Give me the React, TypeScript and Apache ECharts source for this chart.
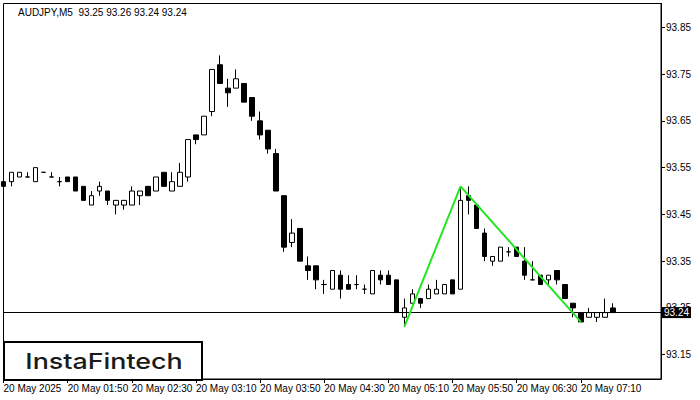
import React, { useEffect, useRef } from "react";
import * as echarts from "echarts";

// OHLC per 5-minute bar starting 20 May 2025 01:10
const opens = [93.52,93.52,93.53,93.53,93.52,93.54,93.53,93.52,93.53,93.53,93.51,93.47,93.50,93.50,93.47,93.47,93.47,93.49,93.51,93.50,93.54,93.50,93.51,93.53,93.62,93.62,93.67,93.77,93.72,93.72,93.73,93.70,93.65,93.63,93.58,93.49,93.39,93.42,93.34,93.34,93.30,93.29,93.32,93.30,93.30,93.29,93.28,93.32,93.32,93.31,93.23,93.26,93.27,93.27,93.28,93.28,93.31,93.29,93.49,93.47,93.41,93.35,93.35,93.37,93.38,93.35,93.31,93.32,93.31,93.33,93.30,93.26,93.24,93.23,93.23,93.23,93.25];
const closes = [93.51,93.54,93.54,93.53,93.55,93.54,93.53,93.52,93.52,93.50,93.48,93.49,93.51,93.48,93.48,93.48,93.50,93.50,93.49,93.53,93.51,93.52,93.54,93.61,93.61,93.66,93.76,93.73,93.71,93.74,93.69,93.66,93.62,93.59,93.50,93.38,93.41,93.35,93.33,93.31,93.30,93.33,93.29,93.29,93.30,93.29,93.33,93.31,93.30,93.24,93.25,93.28,93.26,93.29,93.29,93.30,93.28,93.48,93.48,93.42,93.36,93.36,93.38,93.37,93.36,93.32,93.31,93.30,93.32,93.31,93.27,93.25,93.22,93.24,93.24,93.24,93.24];
const lows = [93.51,93.51,93.53,93.53,93.52,93.54,93.53,93.51,93.52,93.50,93.48,93.47,93.49,93.47,93.45,93.46,93.47,93.47,93.49,93.50,93.51,93.50,93.51,93.52,93.60,93.62,93.66,93.73,93.68,93.72,93.69,93.65,93.61,93.58,93.50,93.37,93.38,93.35,93.31,93.29,93.28,93.29,93.27,93.29,93.29,93.28,93.28,93.30,93.30,93.24,93.21,93.26,93.25,93.27,93.28,93.28,93.28,93.29,93.45,93.42,93.35,93.34,93.35,93.36,93.36,93.31,93.31,93.30,93.30,93.30,93.27,93.23,93.22,93.23,93.22,93.23,93.24];
const highs = [93.52,93.54,93.54,93.54,93.55,93.54,93.54,93.53,93.53,93.53,93.51,93.50,93.52,93.50,93.48,93.48,93.51,93.50,93.51,93.53,93.54,93.54,93.56,93.61,93.62,93.66,93.76,93.79,93.74,93.76,93.73,93.70,93.67,93.63,93.59,93.49,93.44,93.42,93.36,93.34,93.31,93.33,93.33,93.32,93.32,93.30,93.33,93.33,93.33,93.31,93.27,93.29,93.27,93.30,93.31,93.30,93.31,93.51,93.51,93.47,93.42,93.36,93.38,93.38,93.38,93.38,93.35,93.32,93.32,93.33,93.30,93.26,93.24,93.25,93.24,93.27,93.26];

// Pattern line (bar index, price)
const patternIndex = [50, 57, 72];
const patternPrice = [93.21, 93.51, 93.22];

const currentPrice = 93.24;
const priceTicks = [93.15, 93.25, 93.35, 93.45, 93.55, 93.65, 93.75, 93.85];
const emptyBarsRight = 6;
const startMinutes = 1 * 60 + 10;

const totalBars = opens.length + emptyBarsRight;
const categories: string[] = [];
for (let i = 0; i < totalBars; i++) {
  const m = startMinutes + i * 5;
  const hh = String(Math.floor(m / 60)).padStart(2, "0");
  const mm = String(m % 60).padStart(2, "0");
  categories.push(`${hh}:${mm}`);
}

const FONT = "Liberation Sans";

export default function App() {
  const ref = useRef<HTMLDivElement>(null);
  useEffect(() => {
    document.body.style.margin = "0";
    if (!ref.current) return;
    const chart = echarts.init(ref.current, null, { renderer: "svg" });
    const candles = opens.map((o, i) => [o, closes[i], lows[i], highs[i]]);
    const showIdx = (i: number) => i % 8 === 0 && i <= 72;
    chart.setOption({
      animation: false,
      backgroundColor: "#fff",
      grid: {
        left: 3.5,
        top: 3.5,
        right: 39,
        bottom: 21,
        show: true,
        borderColor: "#000",
        borderWidth: 1,
        backgroundColor: "transparent",
        outerBoundsMode: "none",
      },
      xAxis: {
        type: "category",
        data: categories,
        boundaryGap: false,
        axisLine: { show: true, lineStyle: { color: "#000", width: 1 } },
        axisTick: {
          show: true,
          interval: (i: number) => showIdx(i),
          length: 4,
          lineStyle: { color: "#000" },
        },
        axisLabel: {
          show: true,
          interval: (i: number) => showIdx(i),
          align: "left",
          margin: 4,
          color: "#000",
          fontFamily: FONT,
          fontSize: 10,
          formatter: (v: string, i: number) =>
            i === 0 ? "20 May 2025" : `20 May ${v}`,
        },
        splitLine: { show: false },
      },
      yAxis: {
        type: "value",
        position: "right",
        min: 93.098,
        max: 93.901,
        axisLine: { show: true, lineStyle: { color: "#000", width: 1 } },
        axisTick: {
          show: true,
          length: 4,
          customValues: priceTicks,
          lineStyle: { color: "#000" },
        },
        axisLabel: {
          show: true,
          customValues: priceTicks,
          margin: 5,
          color: "#000",
          fontFamily: FONT,
          fontSize: 10,
          formatter: (v: number) => v.toFixed(2),
        },
        splitLine: { show: false },
      },
      series: [
        {
          type: "candlestick",
          data: candles,
          barWidth: 5,
          itemStyle: {
            color: "#fff",
            color0: "#000",
            borderColor: "#000",
            borderColor0: "#000",
            borderWidth: 1,
          },
          markLine: {
            silent: true,
            symbol: ["none", "none"],
            lineStyle: { color: "#000", width: 1, type: "solid" },
            label: {
              show: true,
              position: "end",
              distance: 1,
              formatter: currentPrice.toFixed(2),
              backgroundColor: "#000",
              color: "#fff",
              fontFamily: FONT,
              fontSize: 10,
              padding: [0, 2, 0, 2],
              lineHeight: 11,
            },
            data: [{ yAxis: currentPrice }],
          },
        },
        {
          type: "line",
          data: patternIndex.map((x, i) => [x, patternPrice[i]]),
          symbol: "none",
          lineStyle: { color: "#22e622", width: 2 },
          z: 5,
        },
      ],
      graphic: [
        {
          type: "text",
          left: 18,
          top: 7,
          style: {
            text: `AUDJPY,M5  ${opens[opens.length - 1].toFixed(2)} ${highs[highs.length - 1].toFixed(2)} ${lows[lows.length - 1].toFixed(2)} ${closes[closes.length - 1].toFixed(2)}`,
            fill: "#000",
            font: `10px ${FONT}`,
          },
        },
        {
          type: "group",
          left: 3,
          top: 341,
          z: 100,
          children: [
            {
              type: "rect",
              shape: { x: 0, y: 0, width: 198, height: 38 },
              style: { fill: "#fff", stroke: "#000", lineWidth: 2 },
            },
            {
              type: "text",
              x: 100,
              y: 19,
              scaleX: 1.22,
              style: {
                text: "InstaFintech",
                fill: "#1a1a1a",
                font: `500 22px Inter`,
                align: "center",
                verticalAlign: "middle",
              },
            },
          ],
        },
      ],
    });
    return () => chart.dispose();
  }, []);
  return <div ref={ref} style={{ width: 700, height: 400 }} />;
}
